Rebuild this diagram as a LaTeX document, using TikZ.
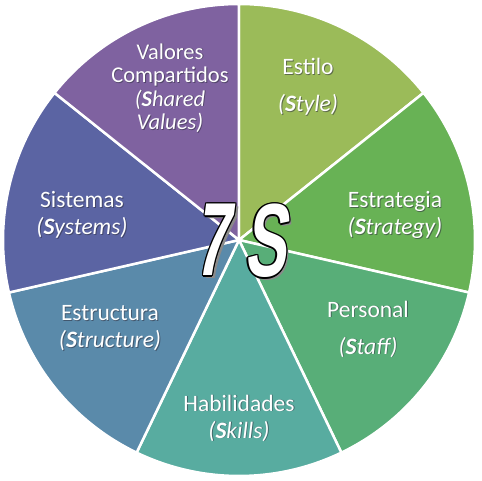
\documentclass[tikz,border=0pt]{standalone}
\usepackage{fontspec}
\setmainfont{Carlito}
\newfontfamily\impactfont{Liberation Sans}[FakeSlant=0.22]
\usetikzlibrary{calc}
\definecolor{mestilo}{HTML}{9BBB59}
\definecolor{mestrat}{HTML}{68B255}
\definecolor{mperson}{HTML}{58AE78}
\definecolor{mhabil}{HTML}{58ACA0}
\definecolor{mestruc}{HTML}{5A8AAA}
\definecolor{msist}{HTML}{5B64A3}
\definecolor{mvalor}{HTML}{7F62A0}
\definecolor{mshadow}{HTML}{2E2E3E}
\definecolor{mgray}{HTML}{8A8A8A}
\tikzstyle{wedge} = [draw=white, line width=2.5pt, line join=round]
\tikzstyle{field} = [text=white, align=center, inner sep=0pt, font=\fontsize{23.5}{27}\selectfont]
\tikzstyle{fieldshadow} = [field, text=mshadow, opacity=0.55]
\tikzstyle{bigs} = [inner sep=0pt, transform shape, xscale=0.6, font=\impactfont\bfseries\fontsize{104}{104}\selectfont]
% label with a soft dark shadow under it
\newcommand{\sfield}[4][]{%
  \node[fieldshadow, #1] at ($(#3)+(0.9,-0.9)$) {#4};
  \node[field, #1] (#2) at (#3) {#4};}
% outlined letter of the centre title
\newcommand{\bigletter}[3]{%
  \node[bigs, text=mgray] at ($(#2)+(2.5,-2.5)$) {#3};
  \foreach \dx/\dy in {1.3/0,-1.3/0,0/1.3,0/-1.3,0.9/0.9,-0.9/0.9,0.9/-0.9,-0.9/-0.9}
    \node[bigs, text=black] at ($(#2)+(\dx,\dy)$) {#3};
  \node[bigs, text=white] (#1) at (#2) {#3};}

\begin{document}
\begin{tikzpicture}[x=1pt, y=1pt]
  \useasboundingbox (-239,-240) rectangle (243,240);
  % the seven wedges
  \filldraw [wedge, fill=mestilo] (0,0) -- (38.57:236) arc[start angle=38.57, end angle=90, radius=236] -- cycle;
  \filldraw [wedge, fill=mestrat] (0,0) -- (-12.86:236) arc[start angle=-12.86, end angle=38.57, radius=236] -- cycle;
  \filldraw [wedge, fill=mperson] (0,0) -- (-64.29:236) arc[start angle=-64.29, end angle=-12.86, radius=236] -- cycle;
  \filldraw [wedge, fill=mhabil] (0,0) -- (-115.71:236) arc[start angle=-115.71, end angle=-64.29, radius=236] -- cycle;
  \filldraw [wedge, fill=mestruc] (0,0) -- (-167.14:236) arc[start angle=-167.14, end angle=-115.71, radius=236] -- cycle;
  \filldraw [wedge, fill=msist] (0,0) -- (141.43:236) arc[start angle=141.43, end angle=192.86, radius=236] -- cycle;
  \filldraw [wedge, fill=mvalor] (0,0) -- (90:236) arc[start angle=90, end angle=141.43, radius=236] -- cycle;
  % labels
  \sfield{estilo}{69,153}{Estilo\\[10pt]\textit{(\textbf{S}tyle)}}
  \sfield{estrategia}{156,25}{Estrategia\\\textit{(\textbf{S}trategy)}}
  \sfield{personal}{129,-89}{Personal\\[10pt]\textit{(\textbf{S}taff)}}
  \sfield{habilidades}{0,-178}{Habilidades\\\textit{(\textbf{S}kills)}}
  \sfield{estructura}{-129,-88}{Estructura\\\textit{(\textbf{S}tructure)}}
  \sfield{sistemas}{-157,25}{Sistemas\\\textit{(\textbf{S}ystems)}}
  \sfield[font=\fontsize{22.5}{23.5}\selectfont]{valores}{-69,152}{Valores\\Compartidos\\\textit{(\textbf{S}hared}\\\textit{Values)}}
  % centre title
  \bigletter{seven}{-27,0}{7}
  \bigletter{ess}{26,-1}{S}
\end{tikzpicture}
\end{document}
